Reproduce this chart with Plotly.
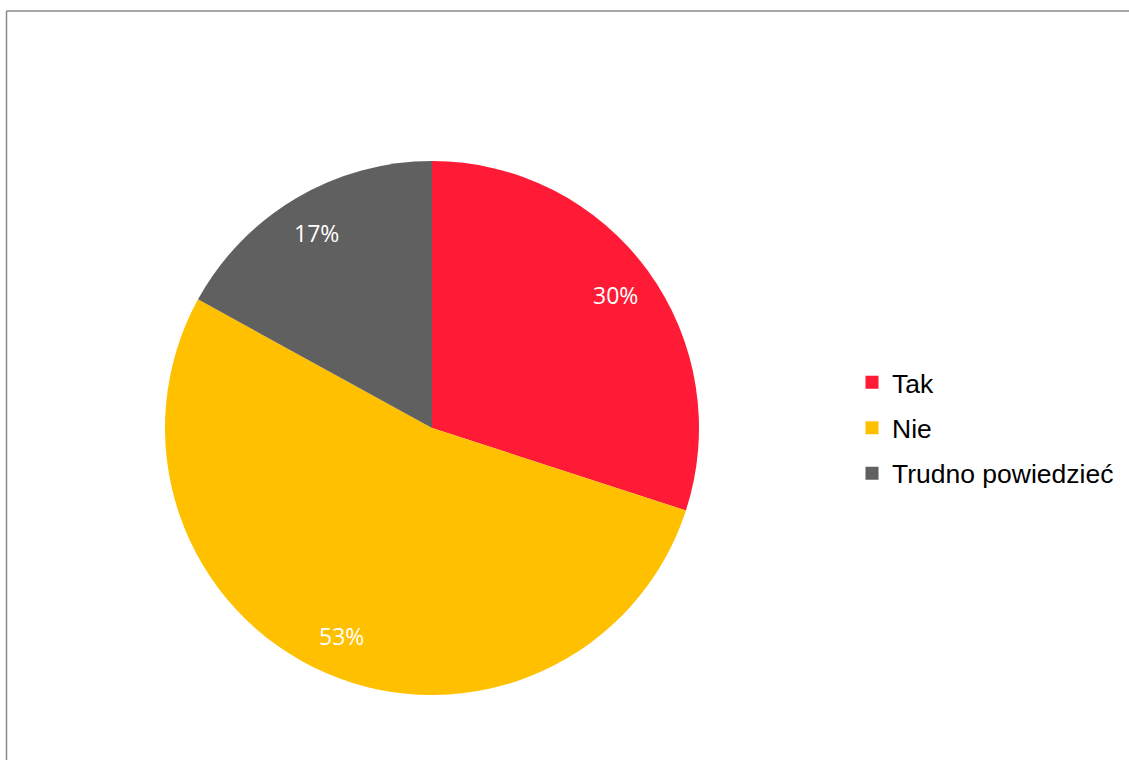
import math
import plotly.graph_objects as go

# Survey answers and their shares (%)
categories = ["Tak", "Nie", "Trudno powiedzieć"]
values = [30, 53, 17]
colors = ["#FF1A35", "#FFC000", "#606060"]

W, H = 1129, 760
# Pie geometry in pixels
cx, cy, R = 432, 428, 267

fig = go.Figure()

fig.add_trace(go.Pie(
    labels=categories,
    values=values,
    marker=dict(colors=colors, line=dict(width=0)),
    sort=False,
    direction="clockwise",
    rotation=0,
    textinfo="none",
    hoverinfo="label+percent",
    showlegend=False,
    domain=dict(x=[(cx - R) / W, (cx + R) / W],
                y=[1 - (cy + R) / H, 1 - (cy - R) / H]),
))

# Legend entries, one group per category so the row spacing can be set
for name, col in zip(categories, colors):
    fig.add_trace(go.Scatter(
        x=[None], y=[None], mode="markers", name=name,
        legendgroup=name,
        marker=dict(symbol="square", size=13, color=col),
        hoverinfo="skip",
    ))

# Percentage labels placed along each slice bisector
total = sum(values)
annotations = []
cum = 0
for v in values:
    mid = (cum + v / 2) / total
    theta = 2 * math.pi * mid
    px = cx + 0.85 * R * math.sin(theta)
    py = cy - 0.85 * R * math.cos(theta)
    annotations.append(dict(
        x=px / W, y=1 - py / H, xref="paper", yref="paper",
        xanchor="center", yanchor="middle",
        text=f"{round(100 * v / total)}%", showarrow=False,
        font=dict(family="Open Sans", size=23, color="white"),
    ))
    cum += v

# Chart frame lines (top and left)
shapes = [
    dict(type="line", xref="paper", yref="paper",
         x0=6.5 / W, x1=1, y0=1 - 11 / H, y1=1 - 11 / H,
         line=dict(color="#8a8a8a", width=1.5)),
    dict(type="line", xref="paper", yref="paper",
         x0=6.5 / W, x1=6.5 / W, y0=0, y1=1 - 11 / H,
         line=dict(color="#8a8a8a", width=1.5)),
]

fig.update_layout(
    width=W, height=H,
    margin=dict(l=0, r=0, t=0, b=0),
    paper_bgcolor="white",
    plot_bgcolor="white",
    xaxis=dict(visible=False),
    yaxis=dict(visible=False),
    annotations=annotations,
    shapes=shapes,
    legend=dict(
        x=852 / W, xanchor="left",
        y=1 - 428 / H, yanchor="middle",
        font=dict(family="Liberation Sans", size=26.5, color="black"),
        tracegroupgap=8,
        bgcolor="rgba(0,0,0,0)",
    ),
)

fig.write_html("out.html")
